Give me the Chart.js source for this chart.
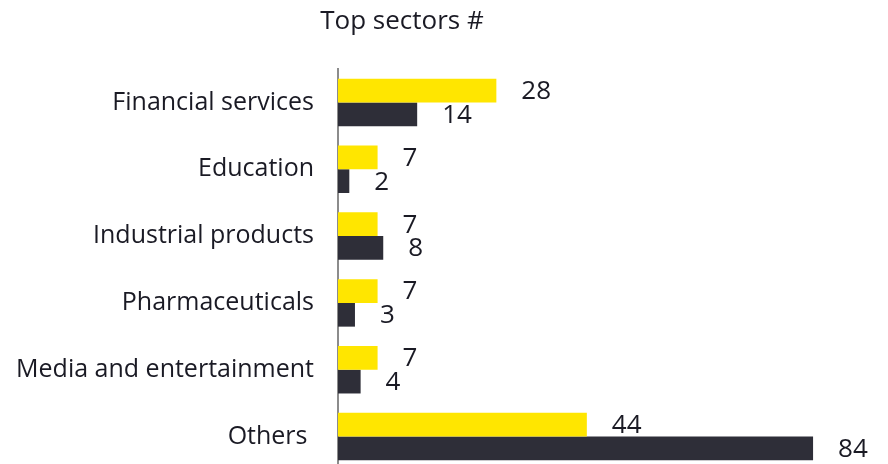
<!DOCTYPE html>
<html>
<head>
<meta charset="utf-8">
<script src="https://cdn.jsdelivr.net/npm/chart.js@4"></script>
<style>
  html, body { margin: 0; padding: 0; background: #fff; overflow: hidden; }
  canvas { display: block; }
</style>
</head>
<body>
<canvas id="sectorChart" width="888" height="470"></canvas>
<script>
// Sector counts, two series per sector
const sectors = ["Financial services", "Education", "Industrial products", "Pharmaceuticals", "Media and entertainment", "Others "];
const seriesYellow = [28, 7, 7, 7, 7, 44];
const seriesDark = [14, 2, 8, 3, 4, 84];
const chartTitle = "Top sectors #";

const FONT = "'Open Sans', 'Noto Sans', sans-serif";
const TEXT = "#1a1a24";

// values printed just past the end of each bar
const valueLabels = {
  id: "valueLabels",
  afterDatasetsDraw(chart) {
    const ctx = chart.ctx;
    ctx.save();
    ctx.font = "26px " + FONT;
    ctx.fillStyle = TEXT;
    ctx.textAlign = "left";
    ctx.textBaseline = "middle";
    chart.data.datasets.forEach((ds, i) => {
      chart.getDatasetMeta(i).data.forEach((bar, j) => {
        ctx.fillText(String(ds.data[j]), bar.x + 25, bar.y + 1);
      });
    });
    ctx.restore();
  }
};

// title sits over the plot, left of canvas centre
const topTitle = {
  id: "topTitle",
  afterDraw(chart) {
    const ctx = chart.ctx;
    ctx.save();
    ctx.font = "26px " + FONT;
    ctx.fillStyle = TEXT;
    ctx.textAlign = "center";
    ctx.textBaseline = "middle";
    ctx.fillText(chartTitle, 402, 22);
    ctx.restore();
  }
};

new Chart(document.getElementById("sectorChart"), {
  type: "bar",
  data: {
    labels: sectors,
    datasets: [
      { label: "Series 1", data: seriesYellow, backgroundColor: "#FFE600" },
      { label: "Series 2", data: seriesDark, backgroundColor: "#2E2E38" }
    ]
  },
  options: {
    indexAxis: "y",
    responsive: false,
    animation: false,
    categoryPercentage: 0.71,
    barPercentage: 1.0,
    layout: { padding: { top: 69, right: 41, bottom: 0, left: 0 } },
    plugins: {
      legend: { display: false },
      tooltip: { enabled: false }
    },
    scales: {
      x: {
        display: false,
        min: 0,
        max: 90
      },
      y: {
        // fixed axis position; no extra room for overhanging labels
        afterFit(scale) {
          scale.width = 338;
          scale.paddingTop = 0;
          scale.paddingBottom = 0;
        },
        grid: { display: false, drawTicks: false },
        border: { display: true, color: "#8c8c8c", width: 2 },
        ticks: {
          color: TEXT,
          padding: 24,
          font: { family: FONT, size: 25 }
        }
      }
    }
  },
  plugins: [valueLabels, topTitle]
});
</script>
</body>
</html>
